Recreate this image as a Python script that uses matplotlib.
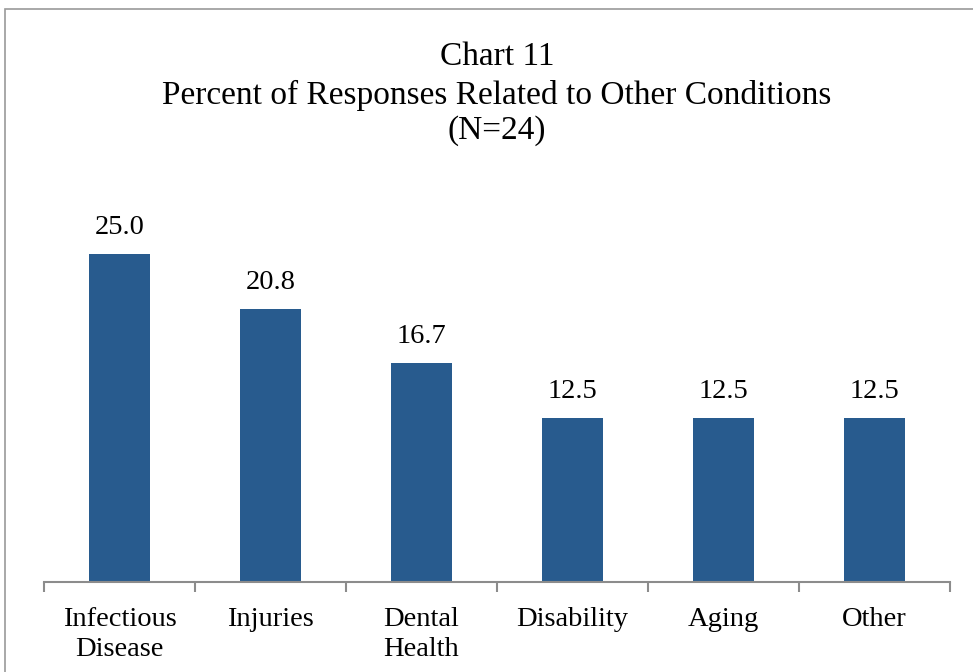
import matplotlib
matplotlib.use("Agg")
import matplotlib.pyplot as plt
from matplotlib.patches import Rectangle

categories = ["Infectious\nDisease", "Injuries", "Dental\nHealth", "Disability", "Aging", "Other"]
values = [25.0, 20.8, 16.7, 12.5, 12.5, 12.5]
title_lines = ["Chart 11", "Percent of Responses Related to Other Conditions", "(N=24)"]

plt.rcParams['font.family'] = ['Liberation Serif', 'DejaVu Serif']

W, H = 973, 672
fig = plt.figure(figsize=(W / 100, H / 100), dpi=100)
fig.patch.set_facecolor("white")

# outer frame (cut off at right/bottom)
fig.patches.append(Rectangle((5 / W, -0.1), 1.2, 1 - 9 / H + 0.1, transform=fig.transFigure,
                             fill=False, edgecolor="#9a9a9a", linewidth=1.2))

left, right = 44 / W, 950 / W
bottom = 1 - 582 / H
top = 1 - 188 / H
ax = fig.add_axes([left, bottom, right - left, top - bottom])

x = list(range(len(categories)))
bars = ax.bar(x, values, width=0.4, color="#285B8E", zorder=2)
ax.set_xlim(-0.5, len(categories) - 0.5)
ax.set_ylim(0, 30)

for xi, v in zip(x, values):
    ax.annotate(f"{v:.1f}", (xi, v), xytext=(0, 10), textcoords="offset points",
                ha="center", va="bottom", fontsize=20.5, color="black")

for s in ["top", "right", "left"]:
    ax.spines[s].set_visible(False)
ax.spines["bottom"].set_color("#8c8c8c")
ax.spines["bottom"].set_linewidth(1.5)
ax.set_yticks([])

ax.set_xticks([i - 0.5 for i in range(len(categories) + 1)], minor=False)
ax.set_xticklabels([])
ax.tick_params(axis="x", which="major", length=7, width=1.5, color="#8c8c8c")
ax.set_xticks(x, minor=True)
ax.set_xticklabels(categories, minor=True, fontsize=20.5, linespacing=1.25)
ax.tick_params(axis="x", which="minor", length=0, pad=18)

ys = [57, 95, 131]
for t, yy in zip(title_lines, ys):
    fig.text(497 / W, 1 - yy / H, t, ha="center", va="center", fontsize=24, color="black")

fig.savefig("out.png", dpi=100)
